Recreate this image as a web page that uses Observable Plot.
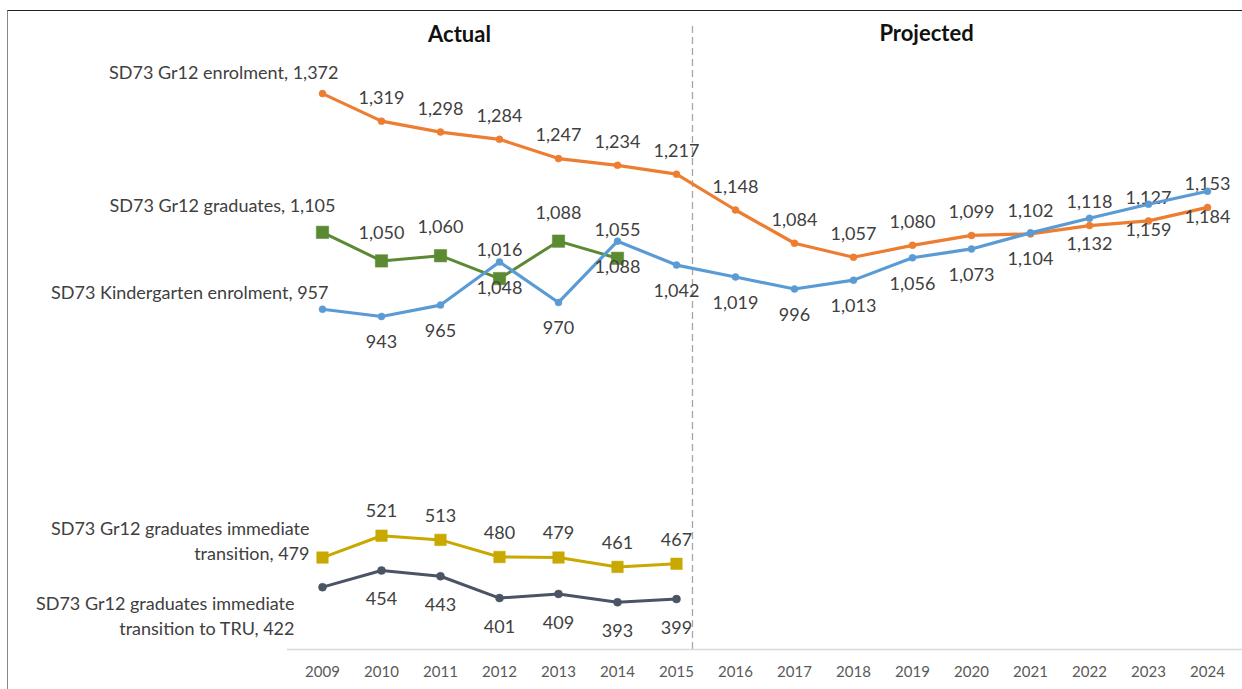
<!DOCTYPE html>
<html><head><meta charset="utf-8">
<script src="https://cdn.jsdelivr.net/npm/d3@7"></script>
<script src="https://cdn.jsdelivr.net/npm/@observablehq/plot@0.6"></script>
<style>
body{margin:0;background:#fff;}
#wrap{position:relative;width:1242px;height:689px;overflow:hidden;}
#border{position:absolute;left:7px;top:10px;right:-2px;bottom:-2px;border-top:1.5px solid #222;border-left:1.5px solid #888;pointer-events:none;}
</style></head><body><div id="wrap"><div id="border"></div></div>
<script>
const years = ["2009","2010","2011","2012","2013","2014","2015","2016","2017","2018","2019","2020","2021","2022","2023","2024"];
const seriesNames = ["SD73 Gr12 enrolment", "SD73 Gr12 graduates", "SD73 Kindergarten enrolment", "SD73 Gr12 graduates immediate\ntransition", "SD73 Gr12 graduates immediate\ntransition to TRU"];
const gr12Enrolment = [1372,1319,1298,1284,1247,1234,1217,1148,1084,1057,1080,1099,1102,1118,1127,1153];
const gr12Graduates = [1105,1050,1060,1016,1088,1055];
const kindergarten = [957,943,965,1048,970,1088,1042,1019,996,1013,1056,1073,1104,1132,1159,1184];
const immediateTransition = [479,521,513,480,479,461,467];
const transitionTRU = [422,454,443,401,409,393,399];
const periodLabels = ["Actual", "Projected"];

const fmt = d3.format(",");
const rows = vals => vals.map((v, i) => ({year: years[i], value: v}));
const FONT = "Lato, 'Open Sans', sans-serif";
const LBL = "#404040";

function series(vals, name, o) {
  const data = rows(vals);
  return [
    Plot.line(data, {x: "year", y: "value", stroke: o.color, strokeWidth: o.sw}),
    Plot.dot(data, {x: "year", y: "value", fill: o.color, stroke: o.color, r: o.r, symbol: o.symbol, strokeWidth: 0.5}),
    Plot.text(data.slice(1), {x: "year", y: "value", text: d => fmt(d.value), dy: o.dy, fill: LBL, fontSize: 18}),
    Plot.text([data[0]], {x: "year", y: "value", text: d => name + ", " + fmt(d.value), textAnchor: "end", dx: o.fdx, dy: o.fdy, fill: LBL, fontSize: 18, lineHeight: 1.42})
  ];
}

const chart = Plot.plot({
  width: 1242, height: 689,
  marginLeft: 287, marginRight: 0, marginTop: 10, marginBottom: 40,
  style: {fontFamily: FONT, background: "transparent"},
  x: {type: "point", domain: years, padding: 0.5},
  y: {domain: [302, 1532], axis: null},
  marks: [
    Plot.ruleX(["2015"], {dx: 16, stroke: "#a6a6a6", strokeWidth: 1.3, strokeDasharray: "7,4", insetTop: 16}),
    Plot.ruleY([302], {stroke: "#d9d9d9", strokeWidth: 1.5}),
    Plot.axisX({tickSize: 0, tickPadding: 17, fontSize: 15, fill: "#595959", label: null}),
    Plot.text([periodLabels[0]], {x: () => "2011", frameAnchor: "top", dx: 19, dy: 24, lineAnchor: "middle", fontWeight: "bold", fontSize: 22, fill: "#111"}),
    Plot.text([periodLabels[1]], {x: () => "2019", frameAnchor: "top", dx: 14, dy: 23, lineAnchor: "middle", fontWeight: "bold", fontSize: 22, fill: "#111"}),
    ...series(gr12Enrolment, seriesNames[0], {color: "#ED7D31", sw: 3.2, r: 3.5, symbol: "circle", dy: -23, fdx: 16, fdy: -23}),
    ...series(gr12Graduates, seriesNames[1], {color: "#5B8A32", sw: 3, r: 7, symbol: "square", dy: -28, fdx: 13, fdy: -29}),
    ...series(kindergarten, seriesNames[2], {color: "#5B9BD5", sw: 3.2, r: 3.5, symbol: "circle", dy: 26, fdx: 6, fdy: -18}),
    ...series(immediateTransition, seriesNames[3], {color: "#C9A800", sw: 3, r: 6.5, symbol: "square", dy: -24, fdx: -13, fdy: -18}),
    ...series(transitionTRU, seriesNames[4], {color: "#4A5464", sw: 3, r: 4, symbol: "circle", dy: 29, fdx: -28, fdy: 27})
  ]
});
document.getElementById("wrap").prepend(chart);
</script>
</body></html>
